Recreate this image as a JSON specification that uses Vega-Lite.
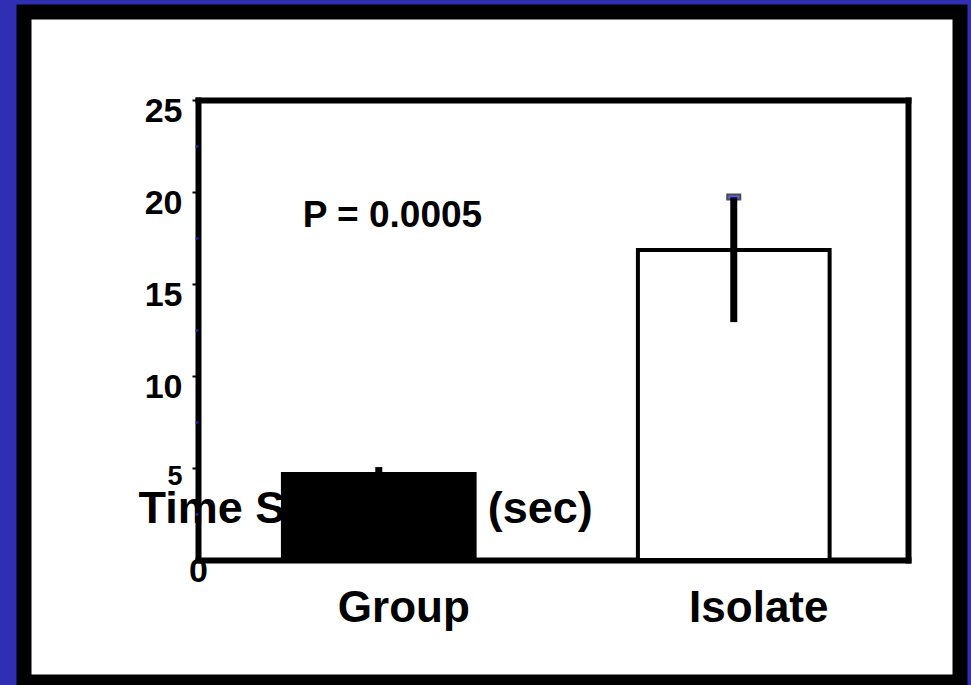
{
  "$schema": "https://vega.github.io/schema/vega-lite/v6.json",
  "width": 936,
  "height": 670,
  "autosize": {"type": "none"},
  "padding": {"left": 24, "top": 12, "right": 11, "bottom": 3},
  "datasets": {
    "bars": [
      {"group": "Group", "mean": 4.67, "lo": 4.29, "hi": 5.05},
      {"group": "Isolate", "mean": 16.85, "lo": 12.93, "hi": 19.73}
    ],
    "note": [{"label": "P = 0.0005"}]
  },
  "layer": [
    {
      "data": {"name": "bars"},
      "mark": {"type": "bar", "stroke": "black", "strokeWidth": 4},
      "encoding": {
        "x": {
          "field": "group", "type": "nominal",
          "scale": {"domain": ["Group", "Isolate"], "range": [174, 884], "paddingInner": 0.46, "paddingOuter": 0.23, "align": 0.52},
          "axis": {
            "orient": "bottom", "offset": -122, "title": null,
            "domainColor": "black", "domainWidth": 6, "domainCap": "square",
            "ticks": false, "labelAngle": 0,
            "labelFont": "Liberation Sans", "labelFontWeight": "bold", "labelFontSize": 44, "labelColor": "black",
            "labelBaseline": "alphabetic", "labelPadding": 61, "labelOffset": 25
          }
        },
        "y": {
          "field": "mean", "type": "quantitative",
          "scale": {"domain": [0, 25], "range": [548, 88], "nice": false},
          "axis": {
            "orient": "left", "offset": -174, "values": [0, 5, 10, 15, 20, 25], "grid": false,
            "domainColor": "black", "domainWidth": 6, "domainCap": "square",
            "tickColor": {"condition": {"test": "datum.value === 0", "value": "transparent"}, "value": "black"},
            "tickWidth": 2, "tickSize": 6,
            "labelFont": "Liberation Sans", "labelFontWeight": "bold", "labelColor": "black",
            "labelFontSize": {"condition": {"test": "datum.value === 5", "value": 27}, "value": 34},
            "labelAlign": {"condition": {"test": "datum.value === 0", "value": "center"}, "value": "right"},
            "labelPadding": {"condition": {"test": "datum.value === 0", "value": -6}, "value": 10},
            "labelOffset": {"condition": {"test": "datum.value === 5", "value": 8}, "value": 11},
            "labelBaseline": "middle", "labelOverlap": false, "labelFlush": false,
            "title": "Time Spent Still (sec)", "titleAngle": 0, "titleAlign": "left", "titleBaseline": "alphabetic",
            "titleX": -60, "titleY": 510,
            "titleFont": "Liberation Sans", "titleFontSize": 45, "titleFontWeight": "bold", "titleColor": "black"
          }
        },
        "fill": {"field": "group", "type": "nominal", "scale": {"domain": ["Group", "Isolate"], "range": ["black", "white"]}, "legend": null}
      }
    },
    {
      "data": {"name": "bars"},
      "mark": {"type": "rule", "color": "black", "strokeWidth": 7, "strokeCap": "butt"},
      "encoding": {
        "x": {"field": "group", "type": "nominal", "axis": null},
        "y": {
          "field": "lo", "type": "quantitative",
          "axis": {
            "orient": "left", "offset": -174, "values": [2.5, 7.5, 12.5, 17.5, 22.5],
            "domain": false, "labels": false, "grid": false, "title": null,
            "tickColor": "#2424e0", "tickSize": 3, "tickWidth": 2, "zindex": 2
          }
        },
        "y2": {"field": "hi"}
      }
    },
    {
      "data": {"name": "bars"},
      "transform": [{"filter": "datum.group === 'Isolate'"}],
      "mark": {"type": "tick", "fill": "#2020c8", "stroke": "black", "strokeWidth": 2, "filled": true, "size": 13, "thickness": 5},
      "encoding": {
        "x": {"field": "group", "type": "nominal", "axis": null},
        "y": {"field": "hi", "type": "quantitative", "axis": null}
      }
    },
    {
      "data": {"name": "note"},
      "mark": {"type": "text", "align": "left", "baseline": "middle", "dx": -76, "font": "Liberation Sans", "fontWeight": "bold", "fontSize": 37, "color": "black"},
      "encoding": {
        "x": {
          "datum": "Group", "type": "nominal",
          "axis": {"orient": "top", "offset": -88, "title": null, "labels": false, "ticks": false, "domainColor": "black", "domainWidth": 6, "domainCap": "square"}
        },
        "y": {
          "datum": 18.7, "type": "quantitative",
          "axis": {"orient": "right", "offset": -52, "title": null, "labels": false, "ticks": false, "grid": false, "domainColor": "black", "domainWidth": 6, "domainCap": "square"}
        },
        "text": {"field": "label"}
      }
    }
  ],
  "resolve": {"axis": {"x": "independent", "y": "independent"}},
  "config": {
    "background": "#2f2fb3",
    "view": {"fill": "white", "stroke": "black", "strokeWidth": 15},
    "axis": {"grid": false}
  }
}
